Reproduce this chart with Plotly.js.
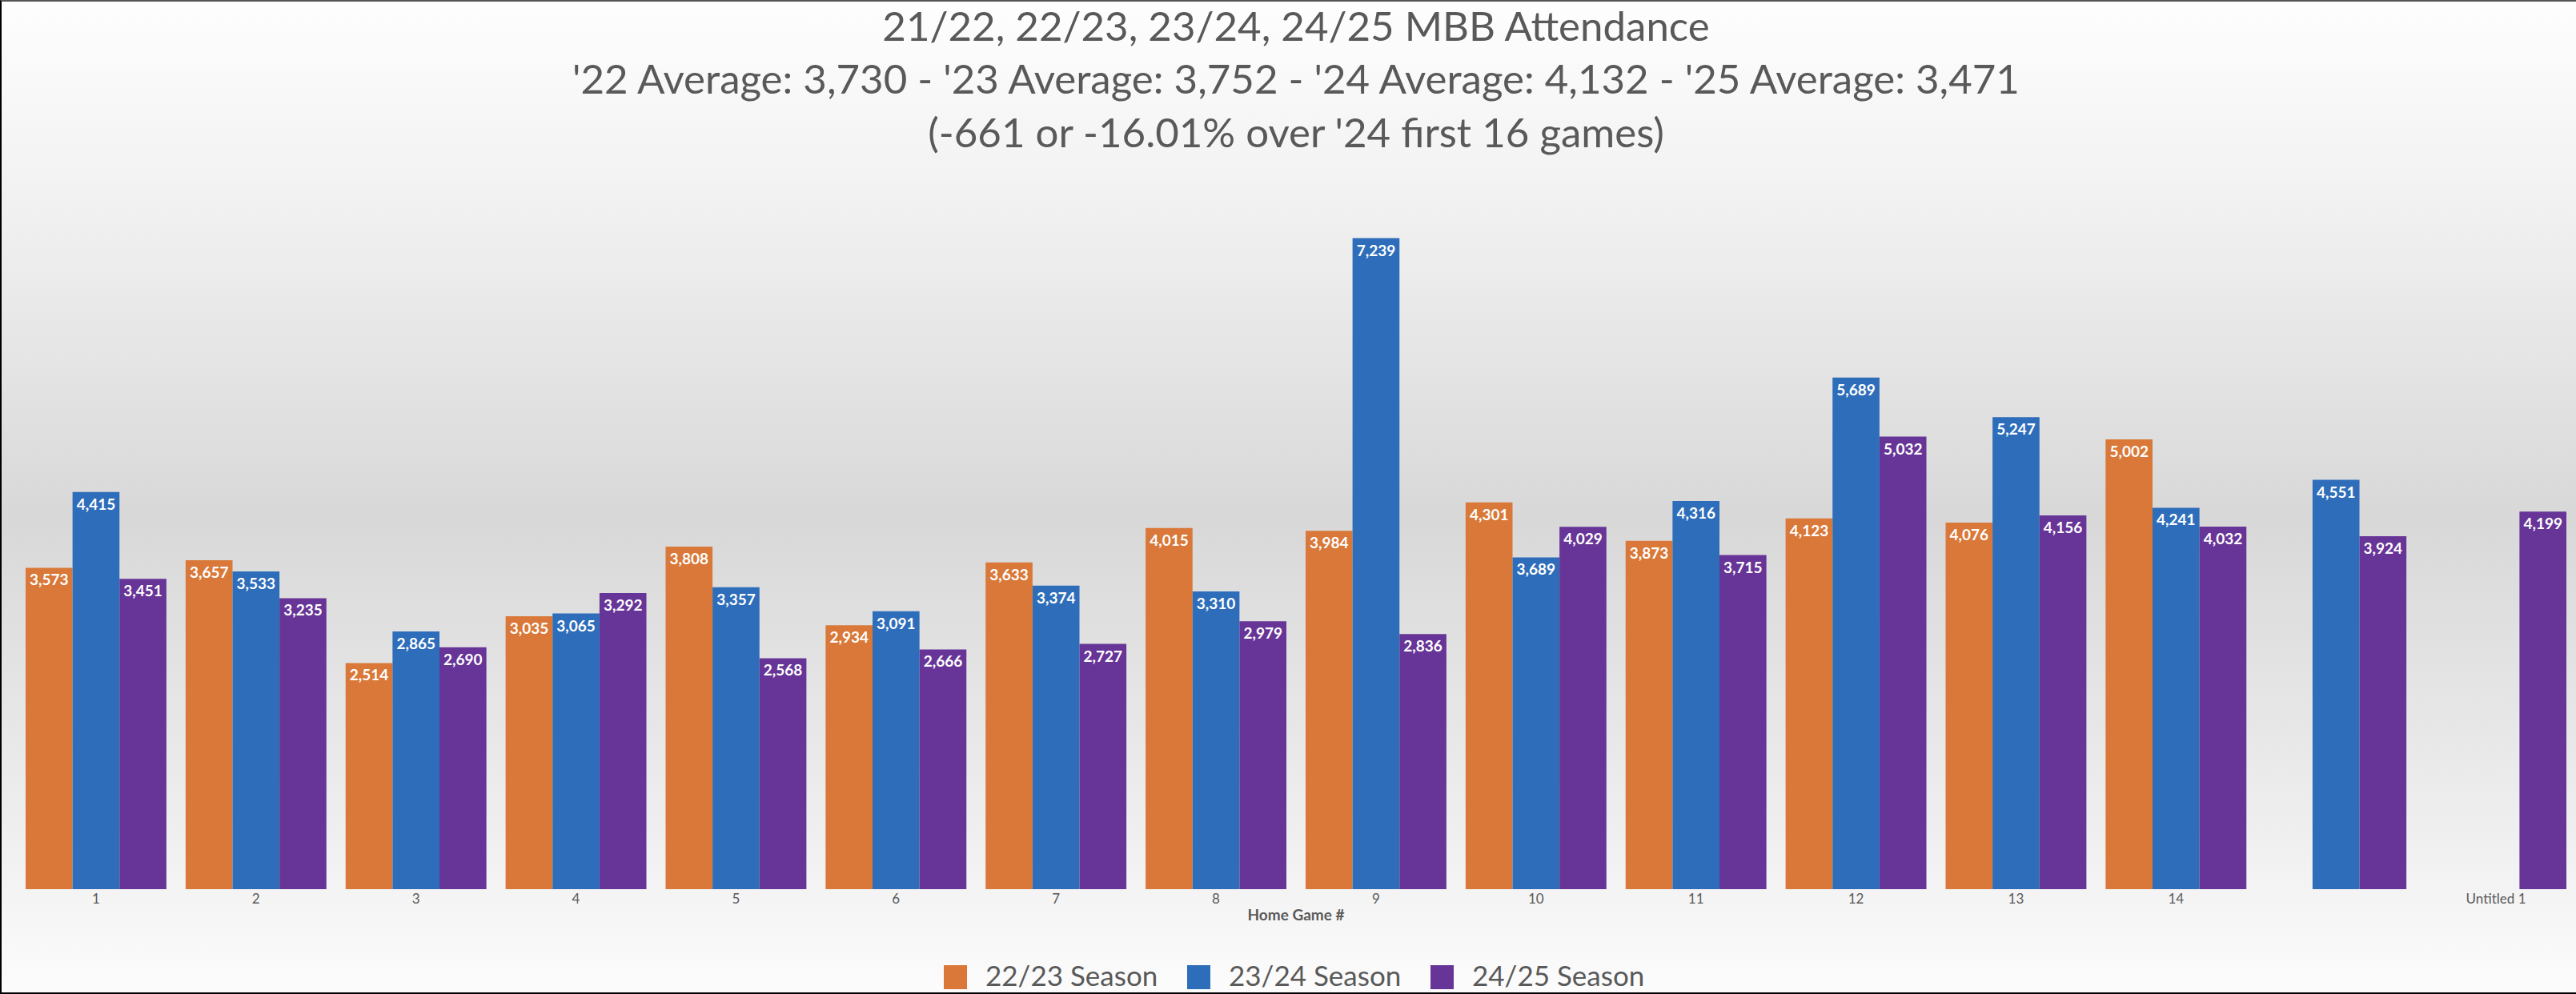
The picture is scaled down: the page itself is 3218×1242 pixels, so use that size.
<!DOCTYPE html>
<html>
<head>
<meta charset="utf-8">
<script src="https://cdn.plot.ly/plotly-3.0.1.min.js"></script>
<style>
  html, body { margin: 0; padding: 0; background: #ffffff; }
  #wrap { position: relative; width: 3218px; height: 1242px; overflow: hidden; }
  #chart { position: absolute; left: 0; top: 0; width: 3218px; height: 1242px;
    background: linear-gradient(to bottom, #fefefe 0%, #f0f0f0 22%, #d8d8d8 52%, #ececec 80%, #fcfcfc 100%); }
  #frame { position: absolute; left: 0; top: 0; width: 3218px; height: 1242px; box-sizing: border-box;
    border-top: 2px solid #555555; border-left: 2px solid #000000; border-bottom: 2px solid #000000;
    pointer-events: none; }
</style>
</head>
<body>
<div id="wrap">
  <div id="chart"></div>
  <div id="frame"></div>
</div>
<script>
// ---- data ----
const categories = ['1','2','3','4','5','6','7','8','9','10','11','12','13','14','','Untitled 1'];
const seriesNames = ['22/23 Season', '23/24 Season', '24/25 Season'];
const season2223 = [3573, 3657, 2514, 3035, 3808, 2934, 3633, 4015, 3984, 4301, 3873, 4123, 4076, 5002, null, null];
const season2324 = [4415, 3533, 2865, 3065, 3357, 3091, 3374, 3310, 7239, 3689, 4316, 5689, 5247, 4241, 4551, null];
const season2425 = [3451, 3235, 2690, 3292, 2568, 2666, 2727, 2979, 2836, 4029, 3715, 5032, 4156, 4032, 3924, 4199];
const titleLines = [
  '21/22, 22/23, 23/24, 24/25 MBB Attendance',
  "'22 Average: 3,730 - '23 Average: 3,752 - '24 Average: 4,132 - '25 Average: 3,471",
  "(-661 or -16.01% over '24 first 16 games)"
];
const xAxisTitle = 'Home Game #';

// ---- style ----
const colors = ['#d97838', '#2e6dba', '#673597'];
const FONT = 'Lato, "Open Sans", sans-serif';
const GREY = '#595959';

const W = 3218, H = 1242;
const M = { l: 20, r: 0, t: 212, b: 131 };
const plotW = W - M.l - M.r, plotH = H - M.t - M.b;
const px2x = p => (p - M.l) / plotW;
const py2y = p => (H - M.b - p) / plotH;

const xs = categories.map((c, i) => i + 1);
const seriesData = [season2223, season2324, season2425];

const traces = seriesData.map((vals, k) => ({
  type: 'bar',
  name: seriesNames[k],
  x: xs,
  y: vals,
  marker: { color: colors[k], line: { width: 0 } },
  texttemplate: '%{y:,}',
  textposition: 'inside',
  insidetextanchor: 'end',
  textangle: 0,
  constraintext: 'none',
  insidetextfont: { family: FONT, size: 19, color: '#ffffff', weight: 'bold' },
  hoverinfo: 'x+y',
  showlegend: false
}));

// manual legend (large swatches like the original)
const shapes = [];
const annotations = [];
seriesNames.forEach((nm, k) => {
  const sx = 1179 + k * 304;
  shapes.push({
    type: 'rect', xref: 'paper', yref: 'paper',
    x0: px2x(sx), x1: px2x(sx + 29), y0: py2y(1236), y1: py2y(1206),
    fillcolor: colors[k], line: { width: 0 }, layer: 'above'
  });
  annotations.push({
    xref: 'paper', yref: 'paper', x: px2x(sx + 50), y: py2y(1218),
    xanchor: 'left', yanchor: 'middle', showarrow: false,
    text: nm, font: { family: FONT, size: 35, color: GREY }
  });
});

const layout = {
  width: W, height: H,
  margin: { l: M.l, r: M.r, t: M.t, b: M.b, pad: 0 },
  paper_bgcolor: 'rgba(0,0,0,0)',
  plot_bgcolor: 'rgba(0,0,0,0)',
  barmode: 'group',
  bargap: 0.12,
  bargroupgap: 0,
  showlegend: false,
  title: {
    text: titleLines.join('<br>'),
    font: { family: FONT, size: 51, color: GREY },
    x: 0.5, xanchor: 'center', xref: 'paper',
    y: 0.959, yanchor: 'top', yref: 'container'
  },
  xaxis: {
    type: 'linear',
    range: [0.5, categories.length + 0.5],
    tickmode: 'array',
    tickvals: xs,
    ticktext: categories,
    showgrid: false, zeroline: false, showline: false, ticks: '',
    tickfont: { family: FONT, size: 17, color: GREY },
    title: { text: xAxisTitle, font: { family: FONT, size: 19, color: GREY, weight: 'bold' }, standoff: 4 },
    fixedrange: true
  },
  yaxis: {
    range: [0, 8000],
    visible: false,
    showgrid: false, zeroline: false,
    fixedrange: true
  },
  shapes: shapes,
  annotations: annotations
};

Plotly.newPlot('chart', traces, layout, { displayModeBar: false, staticPlot: true });
</script>
</body>
</html>
